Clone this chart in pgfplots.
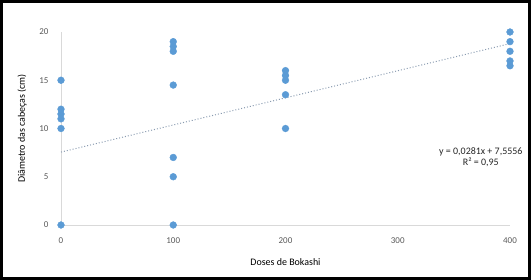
\documentclass[border=0pt]{standalone}
\usepackage{fontspec}
\setmainfont{Carlito}
\usepackage{pgfplots}
\pgfplotsset{compat=1.18}
\definecolor{mblue}{HTML}{5B9BD5}
\definecolor{tgray}{HTML}{595959}
\definecolor{agray}{HTML}{D9D9D9}
\definecolor{trend}{HTML}{8A9BB0}
\begin{document}
\begin{tikzpicture}
\begin{axis}[
  scale only axis,
  width=449bp, height=193bp,
  xmin=0, xmax=400, ymin=0, ymax=20,
  clip=false,
  axis line style={draw=none},
  xtick={0,100,200,300,400},
  ytick={0,5,10,15,20},
  tick style={draw=none},
  tick label style={font=\fontsize{9}{10}\selectfont, text=tgray},
  /pgf/number format/assume math mode=true,
  xticklabel style={yshift=-9bp},
  yticklabel style={xshift=-9bp},
  xlabel={Doses de Bokashi},
  ylabel={Diâmetro das cabeças (cm)},
  label style={font=\fontsize{10}{12}\selectfont, text=black!80},
  every axis x label/.style={at={(axis description cs:0.5,-0.1917)}, anchor=center},
  every axis y label/.style={at={(axis description cs:-0.0869,0.5)}, rotate=90, anchor=center},
]
\draw[agray, line width=0.8pt] (axis cs:0,0) -- (axis cs:400,0);
\draw[agray, line width=0.8pt] (axis cs:0,0) -- (axis cs:0,20);
\addplot[trend, line width=1pt, dotted] coordinates {(0,7.5556) (400,18.7956)};
\addplot[only marks, mark=*, mark size=3.4bp, mark options={fill=mblue, draw=mblue}] coordinates {
(0,15) (0,12) (0,11.5) (0,11) (0,10) (0,0)
(100,19) (100,18.5) (100,18) (100,14.5) (100,7) (100,5) (100,0)
(200,16) (200,15.5) (200,15) (200,13.5) (200,10)
(400,20) (400,19) (400,18) (400,17) (400,16.5)
};
\node[font=\fontsize{10}{11.5}\selectfont, text=black!85, align=center] at (axis cs:374,7.05) {y = 0,0281x + 7,5556\\R² = 0,95};
\end{axis}
\draw[line width=3bp] (-59.5bp,-53.5bp) rectangle (468.5bp,223.5bp);
\pgfresetboundingbox
\useasboundingbox (-61bp,-55bp) rectangle (470bp,225bp);
\end{tikzpicture}
\end{document}
